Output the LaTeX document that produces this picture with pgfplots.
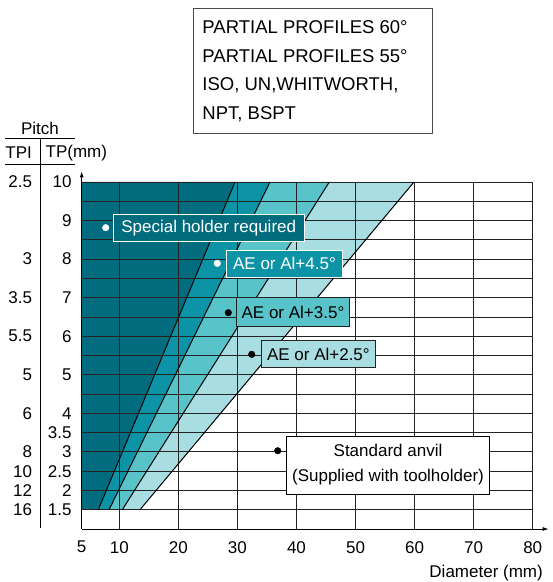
\documentclass[border=0pt]{standalone}
\usepackage{fontspec}
\setmainfont{Liberation Sans}
\usepackage{pgfplots}
\pgfplotsset{compat=1.18}
\usetikzlibrary{arrows.meta}
\definecolor{cA}{RGB}{0,108,126}
\definecolor{cB}{RGB}{12,147,165}
\definecolor{cC}{RGB}{88,196,201}
\definecolor{cD}{RGB}{168,221,225}
\definecolor{gridc}{RGB}{35,35,35}
\newcommand{\fs}{\fontsize{17}{20}\selectfont}
\begin{document}
\begin{tikzpicture}
\begin{axis}[
 scale only axis, width=451pt, height=347pt,
 xmin=3.634, xmax=80, ymin=0, ymax=18,
 axis lines=left, axis line style={draw=none},
 clip=false,
 xtick={3.634,10,20,30,40,50,60,70,80},
 xticklabels={5,10,20,30,40,50,60,70,80},
 ytick={1,2,3,4,5,6,8,10,12,14,16,18},
 yticklabels={1.5,2,2.5,3,3.5,4,5,6,7,8,9,10},
 major tick length=0pt,
 tick label style={font=\fs, inner sep=0pt},
 /pgf/number format/assume math mode=true,
 xticklabel style={anchor=north, yshift=-12pt},
 yticklabel style={anchor=east, xshift=-10pt},
]
% regions
\addplot[fill=cA, draw=none] coordinates {(3.634,1) (6.44,1) (29.59,18) (3.634,18)} -- cycle;
\addplot[fill=cB, draw=none] coordinates {(6.44,1) (8.26,1) (35.52,18) (29.59,18)} -- cycle;
\addplot[fill=cC, draw=none] coordinates {(8.26,1) (10.51,1) (45.56,18) (35.52,18)} -- cycle;
\addplot[fill=cD, draw=none] coordinates {(10.51,1) (13.50,1) (59.90,18) (45.56,18)} -- cycle;
% grid
\pgfplotsinvokeforeach{10,20,30,40,50,60,70,80}{\draw[gridc, line width=0.8pt] (axis cs:#1,0) -- (axis cs:#1,18);}
\pgfplotsinvokeforeach{1,2,3,4,5,6,7,8,9,10,11,12,13,14,15,16,17,18}{\draw[gridc, line width=0.8pt] (axis cs:3.634,#1) -- (axis cs:80,#1);}
% boundaries
\addplot[black, line width=1pt] coordinates {(6.44,1) (29.59,18)};
\addplot[black, line width=1pt] coordinates {(8.26,1) (35.52,18)};
\addplot[black, line width=1pt] coordinates {(10.51,1) (45.56,18)};
\addplot[black, line width=1pt] coordinates {(13.50,1) (59.90,18)};
% axes
\draw[black, line width=0.9pt, -{Latex[length=6pt,width=4pt]}] (axis cs:3.634,0) -- (axis cs:82.7,0);
\draw[black, line width=0.9pt, -{Latex[length=6pt,width=4pt]}] (axis cs:3.634,0) -- (axis cs:3.634,18.55);
% label boxes
\node[draw=white, line width=1pt, fill=cA, text=white, minimum width=190.7pt, minimum height=27.4pt, inner sep=0pt, font=\fs] at (axis cs:25.14,15.61) {Special holder required};
\node[draw=white, line width=1pt, fill=cB, text=white, minimum width=115.6pt, minimum height=27.3pt, inner sep=0pt, font=\fs] at (axis cs:37.97,13.76) {AE or Al+4.5°};
\node[draw=gridc, line width=0.8pt, fill=cC, text=black, minimum width=112.6pt, minimum height=29pt, inner sep=0pt, font=\fs] at (axis cs:39.41,11.24) {AE or Al+3.5°};
\node[draw=gridc, line width=0.8pt, fill=cD, text=black, minimum width=113.3pt, minimum height=27.7pt, inner sep=0pt, font=\fs] at (axis cs:43.71,9.08) {AE or Al+2.5°};
\node[draw=black, line width=0.8pt, fill=white, text=black, minimum width=202.6pt, minimum height=58pt, inner sep=0pt, align=center, font=\fontsize{17}{25}\selectfont] at (axis cs:55.50,3.32) {Standard anvil\\(Supplied with toolholder)};
% pointer dots
\addplot[only marks, mark=*, mark size=3.3pt, white, mark options={draw=white, fill=white}] coordinates {(7.70,15.63) (26.59,13.78)};
\addplot[only marks, mark=*, mark size=3.3pt, black] coordinates {(28.46,11.22) (32.42,9.06) (36.82,4.06)};
% TPI column
\node[anchor=east, inner sep=0pt, font=\fs] at (axis cs:-4.73,18) {2.5};
\node[anchor=east, inner sep=0pt, font=\fs] at (axis cs:-4.73,14) {3};
\node[anchor=east, inner sep=0pt, font=\fs] at (axis cs:-4.73,12) {3.5};
\node[anchor=east, inner sep=0pt, font=\fs] at (axis cs:-4.73,10) {5.5};
\node[anchor=east, inner sep=0pt, font=\fs] at (axis cs:-4.73,8) {5};
\node[anchor=east, inner sep=0pt, font=\fs] at (axis cs:-4.73,6) {6};
\node[anchor=east, inner sep=0pt, font=\fs] at (axis cs:-4.73,4) {8};
\node[anchor=east, inner sep=0pt, font=\fs] at (axis cs:-4.73,3) {10};
\node[anchor=east, inner sep=0pt, font=\fs] at (axis cs:-4.73,2) {12};
\node[anchor=east, inner sep=0pt, font=\fs] at (axis cs:-4.73,1) {16};
% header
\node[inner sep=0pt, font=\fs] at (axis cs:-3.43,20.80) {Pitch};
\node[inner sep=0pt, font=\fs] at (axis cs:-7.03,19.50) {TPI};
\node[inner sep=0pt, font=\fs] at (axis cs:2.72,19.50) {TP(mm)};
\draw[black, line width=0.9pt] (axis cs:-9.35,20.28) -- (axis cs:2.50,20.28);
\draw[black, line width=0.9pt] (axis cs:-9.35,18.93) -- (axis cs:2.50,18.93);
\draw[black, line width=0.9pt] (axis cs:-3.31,20.28) -- (axis cs:-3.31,0.05);
% title box
\draw[gray!60!black, line width=1pt] (axis cs:22.53,27.01) rectangle (axis cs:63.00,20.54);
\node[anchor=base west, inner sep=0pt, font=\fontsize{18.5}{22}\selectfont] at (axis cs:24.05,25.71) {PARTIAL PROFILES 60°};
\node[anchor=base west, inner sep=0pt, font=\fontsize{18.5}{22}\selectfont] at (axis cs:24.05,24.22) {PARTIAL PROFILES 55°};
\node[anchor=base west, inner sep=0pt, font=\fontsize{18.5}{22}\selectfont] at (axis cs:24.05,22.73) {ISO, UN,WHITWORTH,};
\node[anchor=base west, inner sep=0pt, font=\fontsize{18.5}{22}\selectfont] at (axis cs:24.05,21.24) {NPT, BSPT};
% x label
\node[anchor=east, inner sep=0pt, font=\fs] at (axis cs:81.74,-2.28) {Diameter (mm)};
% bounding box
\path (axis cs:-10.20,27.44) rectangle (axis cs:83.27,-2.749);
\end{axis}
\end{tikzpicture}
\end{document}
